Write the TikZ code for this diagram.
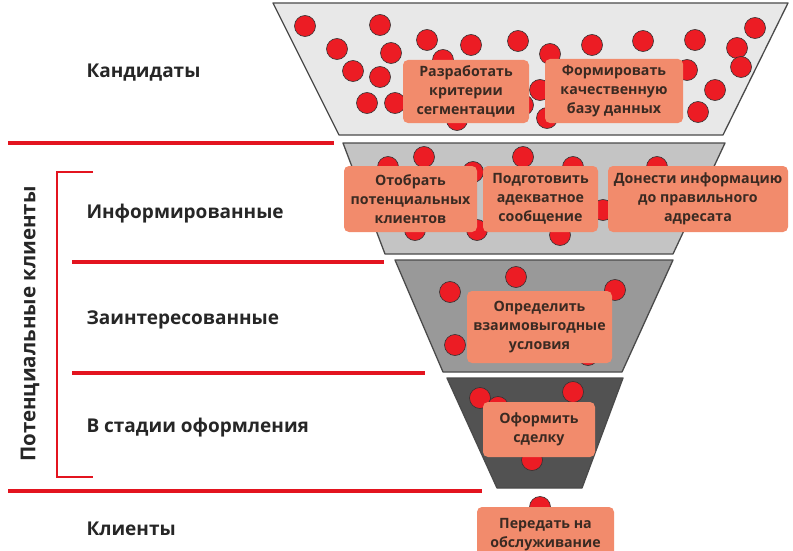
\documentclass[tikz,border=0pt]{standalone}
\usepackage{fontspec}
\setmainfont{Open Sans}
\usepackage{tikz}
\usetikzlibrary{positioning}

\definecolor{lineRed}{HTML}{E3141F}
\definecolor{dotRed}{HTML}{EC1C24}
\definecolor{boxFill}{HTML}{F28B6C}
\definecolor{boxText}{HTML}{3A2A22}
\definecolor{edgeGray}{HTML}{4A4A4A}

\begin{document}
\begin{tikzpicture}[x=1pt, y=-1pt,
            level/.style = {draw=edgeGray, line width=1.3pt, line join=round},
            dot/.style = {circle, draw=black!80, line width=0.6pt, fill=dotRed,
                inner sep=0pt, minimum size=21pt},
            box/.style = {rounded corners=5pt, fill=boxFill, text=boxText,
                align=center, inner sep=2pt, font=\bfseries\fontsize{14.2}{19}\selectfont},
            stage/.style = {anchor=west, text=black!85, font=\bfseries\fontsize{19}{22}\selectfont},
            sep/.style = {lineRed, line width=3.5pt}]
            \useasboundingbox (0,0) rectangle (793,551);
            \clip (0,0) rectangle (793,551);
            \fill[white] (0,0) rectangle (793,551);
            % funnel levels
            \draw[level, fill=black!9] (273,3) -- (788,3) -- (723,135) -- (339,135) -- cycle;
            \draw[level, fill=black!23] (343,143) -- (725,143) -- (673,254) -- (385,254) -- cycle;
            \draw[level, fill=black!40] (395,260) -- (673,260) -- (622,372) -- (443,372) -- cycle;
            \draw[level, fill=black!68] (447,378) -- (623,378) -- (582,488) -- (497,488) -- cycle;
            % dots
            \foreach \px/\py [count=\i] in {305/26, 380/25, 337/49, 391/53, 353/71, 380/77,
                367/103, 395/103, 427/40, 471/45, 518/41, 550/54, 592/45, 643/41, 695/40,
                755/28, 737/48, 741/67, 687/70, 715/90, 698/112, 443/60, 457/120, 523/105,
                540/90, 547/118,
                388/167, 424/157, 473/172, 523/157, 573/167, 657/167, 603/210, 415/230,
                477/230, 560/235,
                516/277, 450/292, 615/290, 455/345, 588/355,
                480/398, 498/407, 573/392, 532/460, 540/507}
                \node[dot] (d\i) at (\px,\py) {};
            % tasks
            \node[box, minimum width=126pt, minimum height=63pt] (segm) at (466,91.5)
                {Разработать\\критерии\\сегментации};
            \node[box, minimum width=138pt, minimum height=64pt] (base) at (614,91)
                {Формировать\\качественную\\базу данных};
            \node[box, minimum width=133pt, minimum height=66pt] (pick) at (410.5,199)
                {Отобрать\\потенциальных\\клиентов};
            \node[box, minimum width=115pt, minimum height=66pt] (msg) at (540.5,199)
                {Подготовить\\адекватное\\сообщение};
            \node[box, minimum width=180pt, minimum height=66pt] (addr) at (698,199)
                {Донести информацию\\до правильного\\адресата};
            \node[box, minimum width=145pt, minimum height=72pt] (terms) at (539.5,327)
                {Определить\\взаимовыгодные\\условия};
            \node[box, minimum width=112pt, minimum height=55pt] (deal) at (539,429.5)
                {Оформить\\сделку};
            \node[box, minimum width=137pt, minimum height=56pt] (serve) at (545.5,535)
                {Передать на\\обслуживание};
            % stages
            \node[stage] (cand) at (83,73) {Кандидаты};
            \node[stage] (inf) at (83,214) {Информированные};
            \node[stage] (int) at (83,320) {Заинтересованные};
            \node[stage] (proc) at (83,428) {В стадии оформления};
            \node[stage] (cli) at (83,529) {Клиенты};
            \draw[sep] (8,143) -- (334,143);
            \draw[sep] (72,262) -- (384,262);
            \draw[sep] (72,373) -- (425,373);
            \draw[sep] (8,491) -- (482,491);
            \draw[lineRed, line width=1.6pt] (93,172) -| (57,477) -- (93,477);
            \node[stage, anchor=center, rotate=90, font=\bfseries\fontsize{20.5}{22}\selectfont]
                (pot) at (30,324) {Потенциальные клиенты};
        \end{tikzpicture}
\end{document}
